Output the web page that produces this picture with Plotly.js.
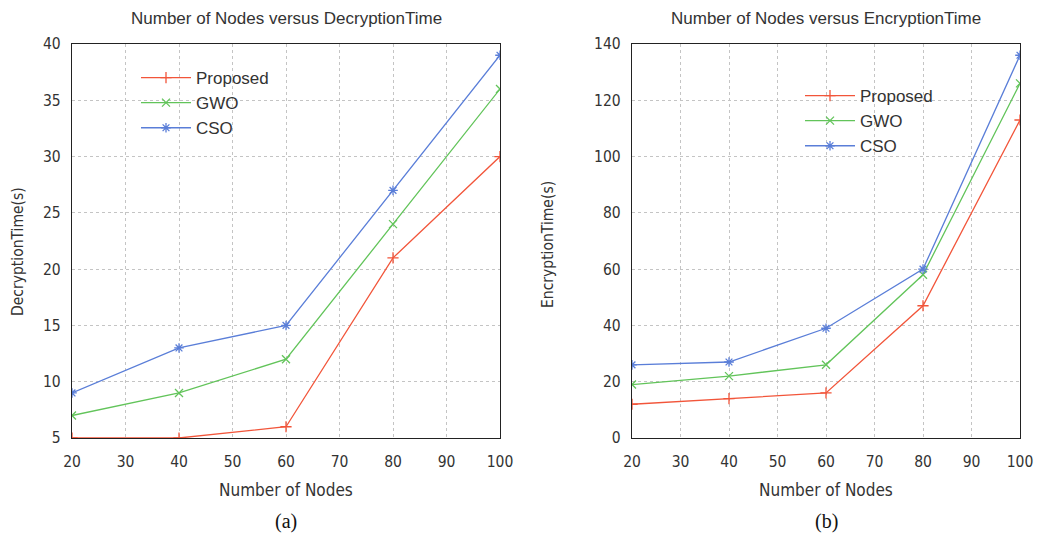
<!DOCTYPE html>
<html><head><meta charset="utf-8">
<script src="https://cdn.plot.ly/plotly-3.0.1.min.js"></script>
<style>body{margin:0;background:#fff}#c{width:1039px;height:536px}</style>
</head><body><div id="c"></div>
<script>
const nodes = [20, 40, 60, 80, 100];
const decProposed = [5, 5, 6, 21, 30];
const decGWO = [7, 9, 12, 24, 36];
const decCSO = [9, 13, 15, 27, 39];
const encProposed = [12, 14, 16, 47, 113];
const encGWO = [19, 22, 26, 58, 126];
const encCSO = [26, 27, 39, 60, 136];
const seriesNames = ['Proposed', 'GWO', 'CSO'];

const colors = ['#f2553a', '#62c45a', '#5a7ed8'];
const symbols = ['cross-thin', 'x-thin', 'asterisk'];
const cond = 'Liberation Sans Narrow, DejaVu Sans Condensed, Liberation Sans, sans-serif';
const tickFont = {family: cond, size: 15.5, color: '#333'};
const labFont = {family: cond, size: 17, color: '#333'};
const yLabFont = {family: cond, size: 15.5, color: '#333'};

function tr(y, i, xa, ya, leg) {
  return {x: nodes, y: y, name: seriesNames[i], xaxis: xa, yaxis: ya, type: 'scatter', mode: 'lines+markers',
    line: {color: colors[i], width: 1.3},
    marker: {symbol: symbols[i], size: 8, color: colors[i], line: {color: colors[i], width: 1.3}},
    legend: leg, cliponaxis: true};
}
const data = [
  tr(decProposed, 0, 'x', 'y', 'legend'), tr(decGWO, 1, 'x', 'y', 'legend'), tr(decCSO, 2, 'x', 'y', 'legend'),
  tr(encProposed, 0, 'x2', 'y2', 'legend2'), tr(encGWO, 1, 'x2', 'y2', 'legend2'), tr(encCSO, 2, 'x2', 'y2', 'legend2')
];

// main axes: frame, grid and labels (labels pushed out by transparent outside ticks)
function ax(extra, pad) {
  return Object.assign({showline: true, mirror: true, linecolor: '#222', linewidth: 1.2,
    ticks: 'outside', ticklen: pad, tickcolor: 'rgba(255,255,255,0)', showgrid: true, gridcolor: '#c4c4c4', griddash: 'dot',
    gridwidth: 1, zeroline: false, tickfont: tickFont, fixedrange: true}, extra);
}
// overlay axes: only the inside tick marks on all four sides
function tk(extra) {
  return Object.assign({showline: false, mirror: 'ticks', ticks: 'inside', ticklen: 6, tickcolor: '#222', tickwidth: 1.2,
    showgrid: false, zeroline: false, showticklabels: false, fixedrange: true}, extra);
}
const yb = (536 - 438) / 536, yt = (536 - 44) / 536;
const dA = [72 / 1039, 500 / 1039], dB = [632 / 1039, 1020 / 1039];
function ann(text, xp, yp, font, angle) {
  return {text: text, x: xp / 1039, y: 1 - yp / 536, xref: 'paper', yref: 'paper', showarrow: false,
    xanchor: 'center', yanchor: 'middle', textangle: angle || 0, font: font};
}
const titleFont = {family: 'Liberation Sans, Arial, sans-serif', size: 17, color: '#333'};
const serif = {family: 'Liberation Serif, Times New Roman, serif', size: 20, color: '#111'};
const legFont = {family: 'Liberation Sans, Arial, sans-serif', size: 17, color: '#333'};
const layout = {
  width: 1039, height: 536, margin: {l: 0, r: 0, t: 0, b: 0},
  paper_bgcolor: '#fff', plot_bgcolor: '#fff', showlegend: true,
  xaxis: ax({domain: dA, range: [20, 100], dtick: 10, anchor: 'y'}, 9),
  yaxis: ax({domain: [yb, yt], range: [5, 40], dtick: 5, anchor: 'x'}, 7),
  xaxis2: ax({domain: dB, range: [20, 100], dtick: 10, anchor: 'y2'}, 9),
  yaxis2: ax({domain: [yb, yt], range: [0, 140], dtick: 20, anchor: 'x2'}, 7),
  xaxis3: tk({overlaying: 'x', anchor: 'y', range: [20, 100], dtick: 10}),
  yaxis3: tk({overlaying: 'y', anchor: 'x', range: [5, 40], dtick: 5}),
  xaxis4: tk({overlaying: 'x2', anchor: 'y2', range: [20, 100], dtick: 10}),
  yaxis4: tk({overlaying: 'y2', anchor: 'x2', range: [0, 140], dtick: 20}),
  legend: {x: 136 / 1039, y: 1 - 60 / 536, xanchor: 'left', yanchor: 'top', bgcolor: 'rgba(0,0,0,0)',
    font: legFont, tracegroupgap: 0, itemwidth: 50},
  legend2: {x: 800 / 1039, y: 1 - 78 / 536, xanchor: 'left', yanchor: 'top', bgcolor: 'rgba(0,0,0,0)',
    font: legFont, tracegroupgap: 0, itemwidth: 50},
  annotations: [
    ann('Number of Nodes versus DecryptionTime', 286, 18, titleFont),
    ann('Number of Nodes versus EncryptionTime', 826, 18, titleFont),
    ann('Number of Nodes', 286, 490, labFont),
    ann('Number of Nodes', 826, 490, labFont),
    ann('DecryptionTime(s)', 18, 252, yLabFont, -90),
    ann('EncryptionTime(s)', 548, 245, yLabFont, -90),
    ann('(a)', 286, 521, serif),
    ann('(b)', 826, 521, serif)
  ]
};
Plotly.newPlot('c', data, layout, {displayModeBar: false, staticPlot: true});
</script></body></html>
